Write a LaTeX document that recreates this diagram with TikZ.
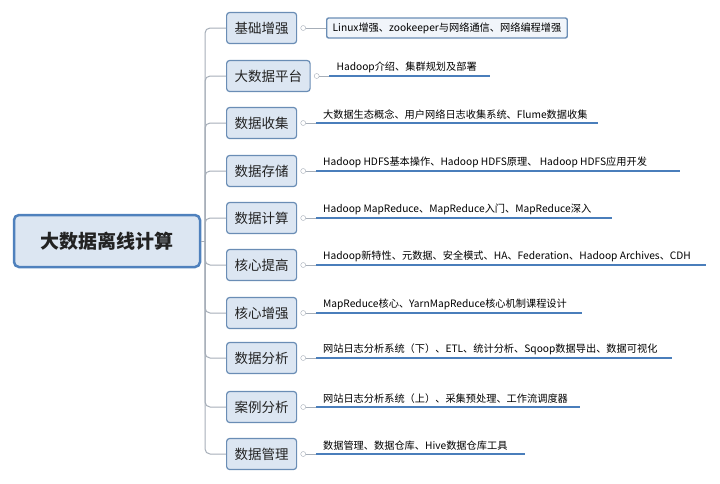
\documentclass[tikz,border=0pt]{standalone}
\usepackage{fontspec}
\setmainfont{Noto Sans CJK SC}
\begin{document}
\begin{tikzpicture}[x=1pt,y=-1pt,
  root/.style={draw=rootb,line width=2.5pt,fill=boxf,rounded corners=5pt,minimum width=186pt,minimum height=52pt,font=\fontsize{19}{21}\selectfont\bfseries,text=txt},
  br/.style={draw=boxb,line width=1.2pt,fill=boxf,rounded corners=3pt,minimum height=31pt,inner xsep=8pt,font=\fontsize{13.5}{15}\selectfont,text=txt},
  lf/.style={font=\fontsize{10.2}{12}\selectfont,anchor=south west,inner sep=1pt},
  ul/.style={draw=lineb,line width=1.6pt},
  tr/.style={draw=trk,line width=1pt,rounded corners=5pt},
  kn/.style={circle,draw=trk,fill=white,inner sep=0pt,minimum size=5pt}]
\definecolor{rootb}{HTML}{4F81BD}
\definecolor{boxb}{HTML}{6A8DB5}
\definecolor{boxf}{HTML}{DCE6F2}
\definecolor{lineb}{HTML}{4A7EBB}
\definecolor{trk}{HTML}{A6AEB8}
\definecolor{txt}{HTML}{222222}
\useasboundingbox (0,0) rectangle (720,483);
\node[root] (R) at (107,241) {大数据离线计算};
\coordinate (T) at (205,241);
\draw[tr] (R.east) -- (T);
\foreach \i/\lab/\y/\leaf/\e in {
 1/基础增强/28/{Linux增强、zookeeper与网络通信、网络编程增强}/0,
 2/大数据平台/76/{Hadoop介绍、集群规划及部署}/490,
 3/数据收集/123/{大数据生态概念、用户网络日志收集系统、Flume数据收集}/598,
 4/数据存储/171/{Hadoop HDFS基本操作、Hadoop HDFS原理、 Hadoop HDFS应用开发}/680,
 5/数据计算/218/{Hadoop MapReduce、MapReduce入门、MapReduce深入}/612,
 6/核心提高/265/{Hadoop新特性、元数据、安全模式、HA、Federation、Hadoop Archives、CDH}/706,
 7/核心增强/313/{MapReduce核心、YarnMapReduce核心机制课程设计}/582,
 8/数据分析/358/{网站日志分析系统（下）、ETL、统计分析、Sqoop数据导出、数据可视化}/672,
 9/案例分析/407/{网站日志分析系统（上）、采集预处理、工作流调度器}/580,
 10/数据管理/454/{数据管理、数据仓库、Hive数据仓库工具}/525}{
  \node[br,anchor=west] (B\i) at (226,\y) {\lab};
  \draw[tr] (T) |- (B\i.west);
  \node[kn] (K\i) at ([xshift=6pt]B\i.east) {};
  \ifnum\i=1
    \node[draw=boxb,line width=1.4pt,fill=boxf!40,rounded corners=2pt,anchor=west,font=\fontsize{10.2}{12}\selectfont,inner xsep=6pt,minimum height=20pt] (L\i) at (326,\y) {\leaf};
    \draw[trk,line width=1pt] (K\i) -- (L\i);
  \else
    \coordinate (E\i) at (\e,\y);
    \draw[trk,line width=1pt] (K\i.east) -- ++(10,0) coordinate (S\i);
    \draw[ul] (S\i) -- (E\i);
    \node[lf] (L\i) at ([xshift=6pt,yshift=2pt]S\i) {\leaf};
  \fi
}
\end{tikzpicture}
\end{document}
